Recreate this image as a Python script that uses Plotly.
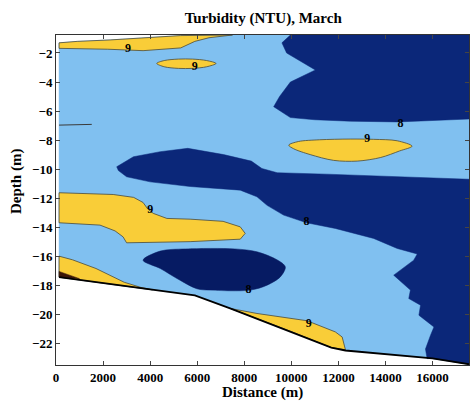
import plotly.graph_objects as go

# ---- data ----
X_MAX = 17550
Y_TOP = -0.76

seabed_x = [130, 4000, 5900, 7400, 10000, 11700, 12300, 16000, X_MAX]
seabed_y = [-17.45, -18.3, -18.7, -19.6, -21.2, -22.3, -22.5, -23.05, -23.45]

water_top_x = [130, 900, 2300, 4000, 5300, 5600, X_MAX]
water_top_y = [-1.3, -1.2, -1.1, -0.93, -0.8, Y_TOP, Y_TOP]

# turbidity < 8 NTU regions
low_top_x = [9960, 9600, 9800, 11020, 9960, 9500, 9250, 9960, 11000, 12500, 14500, X_MAX, X_MAX]
low_top_y = [Y_TOP, -1.3, -2.0, -3.17, -4.0, -5.0, -5.7, -6.45, -6.6, -6.7, -6.75, -6.55, Y_TOP]

low_band_x = [2580, 3290, 4430, 5600, 7120, 8300, 8750, 9400, 11500, 14500, X_MAX, X_MAX, 16000,
              15770, 15700, 15915, 16060, 15420, 15490, 14990, 15060, 14350, 15200, 15350, 14500,
              13500, 11870, 10650, 9670, 8970, 8540, 7830, 5700, 4000, 3000, 2650]
low_band_y = [-9.84, -9.15, -8.8, -8.57, -9.0, -9.45, -9.96, -10.25, -10.35, -10.5, -10.7, -23.45, -23.05,
              -23.06, -22.4, -21.45, -20.88, -20.07, -19.38, -18.92, -18.34, -17.31, -16.28, -15.85, -15.47,
              -14.78, -14.09, -13.7, -13.17, -12.5, -11.91, -11.45, -11.2, -10.88, -10.53, -10.1]

low_blob_x = [3700, 4430, 5500, 7600, 8540, 9390, 9745, 9530, 8970, 8250, 6550, 5990, 5140, 4430]
low_blob_y = [-16.28, -15.65, -15.5, -15.5, -15.7, -16.25, -16.74, -17.43, -18.0, -18.34, -18.34, -18.25, -17.54, -16.85]

# turbidity > 9 NTU regions
high_strip_x = [130, 900, 2300, 4000, 5300, 7500, 6500, 5900, 5300, 3700, 2200, 130]
high_strip_y = [-1.3, -1.2, -1.1, -0.93, -0.8, -0.76, -0.95, -1.2, -1.65, -1.84, -1.74, -1.68]

high_ell_x = [4280, 4600, 5200, 5800, 6400, 6800, 6400, 5800, 5200, 4600]
high_ell_y = [-2.72, -2.52, -2.42, -2.42, -2.52, -2.72, -2.95, -3.06, -3.06, -2.95]

high_right_x = [9890, 10300, 11200, 12500, 13500, 14500, 15130, 14600, 13800, 12800, 11800, 10800, 10100]
high_right_y = [-8.35, -8.1, -7.98, -7.93, -7.95, -8.05, -8.42, -8.75, -9.2, -9.45, -9.4, -9.0, -8.6]

high_mid_x = [130, 2430, 3300, 3700, 3900, 4130, 4710, 5700, 7100, 7830, 8040, 7830, 5700,
              3000, 2850, 2510, 1870, 130]
high_mid_y = [-11.63, -11.75, -11.95, -12.3, -12.75, -13.05, -13.4, -13.45, -13.6, -13.98, -14.43, -14.83, -15.0,
              -15.08, -14.67, -14.26, -13.86, -13.7]

high_low_x = [130, 700, 1700, 2500, 2900, 3600, 4100, 130]
high_low_y = [-16.0, -16.25, -16.85, -17.45, -17.8, -18.15, -18.32, -17.45]

high_bed_x = [7400, 8540, 10670, 11870, 12160, 12300, 11700, 10000, 7400]
high_bed_y = [-19.6, -19.95, -20.45, -21.22, -21.57, -22.45, -22.3, -21.2, -19.6]

peak_x = [130, 1000, 130]
peak_y = [-17.05, -17.55, -17.45]

stray_x = [130, 1520]
stray_y = [-6.97, -6.92]

label_x = [3060, 5900, 13230, 4000, 10740, 14640, 10640, 8180]
label_y = [-1.72, -2.97, -7.93, -12.83, -20.64, -6.9, -13.68, -18.3]
label_t = ["9", "9", "9", "9", "9", "8", "8", "8"]

x_ticks = [0, 2000, 4000, 6000, 8000, 10000, 12000, 14000, 16000]
y_ticks = [-2, -4, -6, -8, -10, -12, -14, -16, -18, -20, -22]

# ---- colours ----
C_MID = "#80c0f0"
C_LOW = "#0b2779"
C_LOWER = "#061b63"
C_HIGH = "#f9cd38"
C_PEAK = "#3b1608"
C_EDGE = "#4a4a3a"

fig = go.Figure()


def poly(xs, ys, color, edge=None, width=0.0, smooth=False):
    line = dict(color=edge if edge else color, width=width if edge else 0.5)
    if smooth:
        line.update(shape="spline", smoothing=0.9)
    fig.add_trace(go.Scatter(
        x=xs + xs[:1], y=ys + ys[:1], mode="lines", fill="toself", fillcolor=color,
        line=line, hoverinfo="skip", showlegend=False))


water_x = water_top_x + seabed_x[::-1]
water_y = water_top_y + seabed_y[::-1]
poly(water_x, water_y, C_MID)
poly(low_top_x, low_top_y, C_LOW)
poly(low_band_x, low_band_y, C_LOW)
poly(low_blob_x, low_blob_y, C_LOWER, smooth=True)
for xs, ys, sm in [(high_strip_x, high_strip_y, False), (high_ell_x, high_ell_y, True),
                   (high_right_x, high_right_y, True), (high_mid_x, high_mid_y, False),
                   (high_low_x, high_low_y, False), (high_bed_x, high_bed_y, False)]:
    poly(xs, ys, C_HIGH, C_EDGE, 0.8, smooth=sm)
poly(peak_x, peak_y, C_PEAK)

fig.add_trace(go.Scatter(x=stray_x, y=stray_y, mode="lines", line=dict(color="#3a3a3a", width=1),
                         hoverinfo="skip", showlegend=False))
fig.add_trace(go.Scatter(x=seabed_x, y=seabed_y, mode="lines", line=dict(color="black", width=1.8),
                         hoverinfo="skip", showlegend=False))
fig.add_trace(go.Scatter(x=label_x, y=label_y, mode="text", text=label_t,
                         textfont=dict(family="Liberation Serif", size=12, color="black", weight="bold"),
                         hoverinfo="skip", showlegend=False))

font_b = dict(family="Liberation Serif", size=13, color="black", weight="bold")
title_font = dict(family="Liberation Serif", size=15, color="black", weight="bold")
fig.update_layout(
    width=470, height=401,
    margin=dict(l=56, r=1, t=35, b=36),
    paper_bgcolor="white", plot_bgcolor="white",
    title=dict(text="Turbidity (NTU), March", x=0.56, xanchor="center", y=0.955, yanchor="middle",
               font=dict(family="Liberation Serif", size=15, color="black", weight="bold")),
    xaxis=dict(range=[0, X_MAX], tickvals=x_ticks, ticktext=[str(v) for v in x_ticks],
               ticks="inside", ticklen=4, tickcolor="#444", showgrid=False, zeroline=False,
               showline=True, linecolor="#333", linewidth=1, mirror="ticks",
               tickfont=font_b, ticklabelstandoff=0),
    yaxis=dict(range=[-23.5, Y_TOP], tickvals=y_ticks, ticktext=["\u2212" + str(-v) for v in y_ticks],
               ticks="inside", ticklen=4, tickcolor="#444", showgrid=False, zeroline=False,
               showline=True, linecolor="#333", linewidth=1, mirror="ticks",
               tickfont=font_b),
    annotations=[
        dict(text="Distance (m)", xref="paper", yref="paper", x=0.5, y=-0.082,
             xanchor="center", yanchor="middle", showarrow=False, font=title_font),
        dict(text="Depth (m)", xref="paper", yref="paper", x=-0.094, y=0.555, textangle=-90,
             xanchor="center", yanchor="middle", showarrow=False, font=title_font),
    ],
)

fig.write_html("out.html")
